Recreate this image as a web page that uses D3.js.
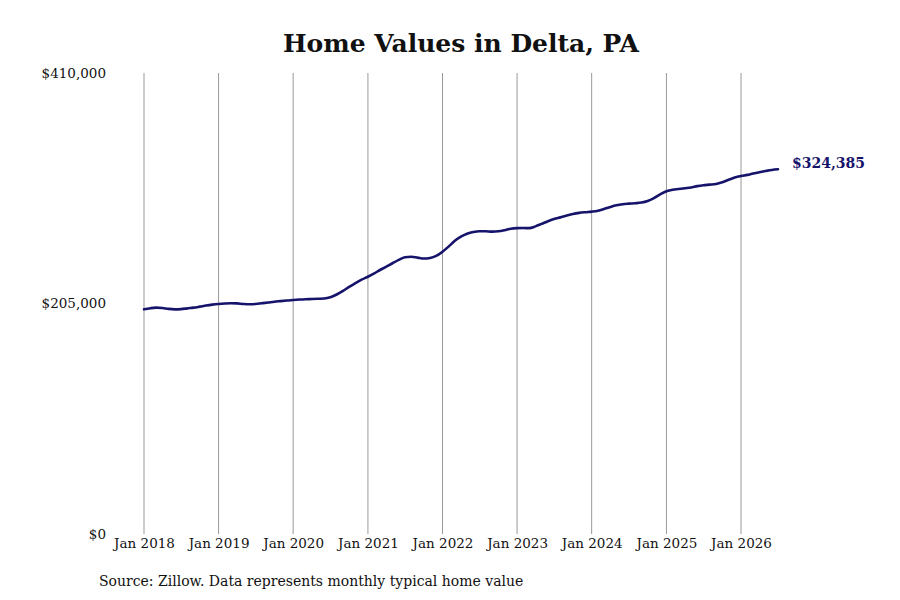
<!DOCTYPE html>
<html>

<head>
    <title>Home Values in Delta, PA</title>
    <script src="https://d3js.org/d3.v7.min.js"></script>
    <style>
        body { margin: 0; background: #fff; }
        text { font-family: "DejaVu Serif", serif; }
    </style>
</head>

<body>

    <svg width="900" height="600" id="mainSvg"></svg>
    <script>
        // monthly typical home value, Jan 2018 .. Jul 2026
        const startYear = 2018;
        const homeValues = [
            199800, 200800, 201300, 201000, 200200, 199800, 200000, 200700, 201300, 202200, 203200, 204000,
            204600, 205000, 205200, 205100, 204600, 204300, 204500, 205200, 205900, 206600, 207100, 207600,
            208100, 208500, 208800, 209000, 209200, 209400, 210500, 213000, 216200, 219800, 223200, 226200,
            228800, 231800, 234800, 237700, 240800, 243800, 246100, 246600, 245800, 245000, 245500, 247300,
            251100, 255800, 260500, 264400, 267000, 268600, 269300, 269200, 268900, 269200, 270200, 271500,
            272000, 272100, 272000, 273600, 275800, 278200, 280100, 281600, 283200, 284600, 285600, 286200,
            286700, 287500, 289000, 290800, 292300, 293300, 293800, 294200, 294800, 296200, 298800, 302000,
            304800, 306200, 306800, 307500, 308200, 309400, 310200, 310700, 311300, 312800, 315000, 317000,
            318400, 319400, 320600, 321700, 322800, 323800, 324385
        ];
        const yTicks = [0, 205000, 410000];
        const xTickYears = [2018, 2019, 2020, 2021, 2022, 2023, 2024, 2025, 2026];

        const data = homeValues.map((v, i) => ({ date: new Date(startYear, i, 1), value: v }));

        const svg = d3.select('#mainSvg');
        const lineColor = "#16136b";

        const xScale = d3.scaleTime()
            .domain([data[0].date, data[data.length - 1].date])
            .range([144, 778]);
        const yScale = d3.scaleLinear()
            .domain([0, 410000])
            .range([534, 73]);

        // vertical gridlines at each January
        svg.append("g")
            .selectAll("line")
            .data(xTickYears)
            .join("line")
            .attr("x1", d => xScale(new Date(d, 0, 1)))
            .attr("x2", d => xScale(new Date(d, 0, 1)))
            .attr("y1", yScale(410000))
            .attr("y2", yScale(0))
            .attr("stroke", "#999")
            .attr("stroke-width", 1);

        // x labels
        const xAxis = d3.axisBottom(xScale)
            .tickValues(xTickYears.map(y => new Date(y, 0, 1)))
            .tickFormat(d3.timeFormat("Jan %Y"))
            .tickSize(0)
            .tickPadding(4);
        const xg = svg.append("g")
            .attr("transform", `translate(0, ${yScale(0)})`)
            .call(xAxis);
        xg.select(".domain").remove();
        xg.selectAll("text")
            .style("font-family", "DejaVu Serif")
            .style("font-size", "13.5px")
            .attr("fill", "#111");

        // y labels
        const yAxis = d3.axisLeft(yScale)
            .tickValues(yTicks)
            .tickFormat(d => "$" + d3.format(",")(d))
            .tickSize(0)
            .tickPadding(0);
        const yg = svg.append("g")
            .attr("transform", `translate(106, 0)`)
            .call(yAxis);
        yg.select(".domain").remove();
        yg.selectAll("text")
            .style("font-family", "DejaVu Serif")
            .style("font-size", "13.5px")
            .attr("fill", "#111");

        const line = d3.line()
            .x(d => xScale(d.date))
            .y(d => yScale(d.value))
            .curve(d3.curveMonotoneX);

        svg.append("path")
            .datum(data)
            .attr("fill", "none")
            .attr("stroke", lineColor)
            .attr("stroke-width", 2.6)
            .attr("stroke-linecap", "round")
            .attr("d", line);

        const last = data[data.length - 1];
        svg.append("text")
            .attr("x", xScale(last.date) + 14)
            .attr("y", yScale(last.value))
            .attr("dy", "-0.12em")
            .attr("font-size", 14)
            .attr("font-weight", "bold")
            .attr("fill", lineColor)
            .text("$" + d3.format(",")(last.value));

        svg.append("text")
            .attr("x", 461)
            .attr("y", 52)
            .attr("text-anchor", "middle")
            .attr("font-size", 25)
            .attr("font-weight", "bold")
            .attr("fill", "#111")
            .text("Home Values in Delta, PA");

        svg.append("text")
            .attr("x", 99)
            .attr("y", 586)
            .attr("font-size", 14)
            .attr("fill", "#111")
            .text("Source: Zillow. Data represents monthly typical home value");
    </script>
</body>

</html>
